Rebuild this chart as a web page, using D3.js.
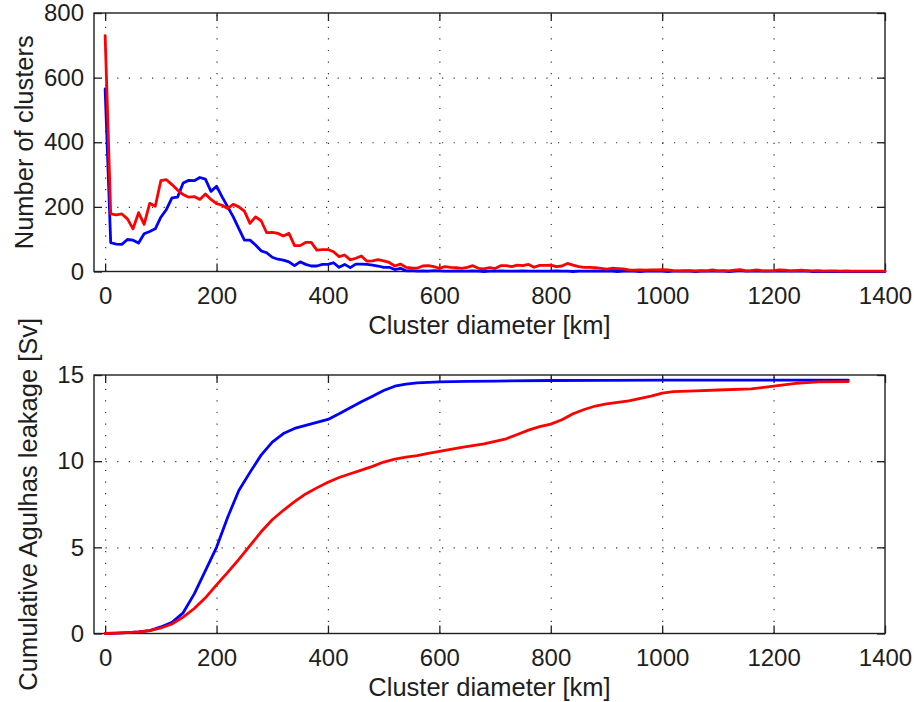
<!DOCTYPE html>
<html>
<head>
<meta charset="utf-8">
<script src="https://cdn.jsdelivr.net/npm/d3@7"></script>
<style>
  html, body { margin: 0; padding: 0; background: #fff; }
  svg { display: block; }
  text { font-family: "Liberation Sans", Arial, Helvetica, sans-serif; fill: #1e1e1e; }
</style>
</head>
<body>
<svg id="fig" width="918" height="702"></svg>
<script>
// Histogram bins: 10 km wide, starting at 0 km
const binStartKm = 0;
const binWidthKm = 10;

// Number of clusters per diameter bin (0 ... 1400 km)
const countsBlue = [
  565, 89, 85, 84, 99, 97, 88, 117, 124, 132,
  168, 192, 228, 230, 274, 282, 281, 291, 286, 248,
  264, 231, 200, 169, 133, 97, 97, 82, 64, 58,
  44, 38, 35, 30, 18, 30, 22, 17, 17, 22,
  22, 27, 13, 22, 12, 23, 23, 22, 20, 17,
  13, 13, 6, 10, 2, 3, 1, 2, 1, 3,
  2, 1, 1, 2, 1, 1, 2, 1, 0, 1,
  1, 2, 1, 1, 1, 2, 1, 1, 1, 1,
  1, 2, 1, 1, 0, 1, 1, 1, 2, 1,
  1, 1, 0, 1, 1, 1, 0, 1, 1, 1,
  1, 0, 1, 1, 2, 1, 0, 1, 1, 2,
  1, 1, 0, 1, 3, 1, 1, 2, 1, 1,
  1, 2, 1, 1, 2, 1, 2, 0, 0, 0,
  0, 0, 0, 0, 0, 0, 0, 0, 0, 0,
  0
];
const countsRed = [
  730, 178, 175, 178, 163, 132, 182, 146, 211, 202,
  281, 284, 269, 252, 238, 230, 232, 223, 240, 223,
  210, 205, 195, 208, 200, 187, 149, 169, 157, 120,
  121, 118, 110, 118, 80, 80, 90, 90, 66, 68,
  68, 61, 46, 51, 36, 41, 48, 32, 33, 37,
  33, 28, 17, 23, 13, 11, 10, 17, 18, 15,
  10, 15, 13, 12, 10, 13, 18, 10, 8, 12,
  9, 18, 18, 15, 20, 18, 22, 13, 19, 19,
  20, 15, 17, 25, 20, 15, 13, 13, 12, 10,
  7, 10, 9, 8, 5, 4, 5, 4, 5, 5,
  6, 5, 3, 2, 2, 3, 2, 3, 2, 5,
  2, 3, 2, 4, 6, 2, 3, 5, 2, 2,
  3, 5, 4, 2, 3, 4, 2, 2, 3, 1,
  2, 2, 1, 2, 1, 1, 1, 1, 1, 1,
  1
];

// Cumulative leakage [Sv] against cluster diameter [km]
const cumBlueKm = [0, 20, 40, 60, 80, 100, 120, 140, 160, 180, 200, 220, 240, 260, 280, 300,
  320, 340, 360, 380, 400, 420, 440, 460, 480, 500, 520, 540, 560, 600, 650, 700, 800, 900,
  1000, 1100, 1200, 1334];
const cumBlueSv = [0, 0.02, 0.05, 0.09, 0.17, 0.38, 0.65, 1.2, 2.3, 3.65, 5.0, 6.75, 8.3, 9.35,
  10.35, 11.1, 11.6, 11.9, 12.08, 12.25, 12.42, 12.75, 13.1, 13.45, 13.77, 14.1, 14.35, 14.47,
  14.54, 14.6, 14.63, 14.65, 14.68, 14.69, 14.7, 14.7, 14.7, 14.7];
const cumRedKm = [0, 20, 40, 60, 80, 100, 120, 140, 160, 180, 200, 220, 240, 260, 280, 300,
  320, 340, 360, 380, 400, 420, 440, 460, 480, 500, 520, 540, 560, 580, 600, 640, 680, 700,
  720, 740, 760, 780, 800, 820, 840, 860, 880, 900, 940, 980, 1000, 1020, 1060, 1100, 1160,
  1200, 1240, 1280, 1334];
const cumRedSv = [0, 0.02, 0.05, 0.09, 0.17, 0.32, 0.55, 0.95, 1.45, 2.07, 2.82, 3.55, 4.3, 5.1,
  5.9, 6.6, 7.15, 7.65, 8.1, 8.45, 8.78, 9.05, 9.27, 9.48, 9.7, 9.95, 10.12, 10.24, 10.32,
  10.45, 10.57, 10.8, 11.0, 11.15, 11.3, 11.55, 11.8, 12.0, 12.15, 12.4, 12.75, 13.0, 13.2,
  13.32, 13.5, 13.78, 13.95, 14.03, 14.08, 14.13, 14.2, 14.35, 14.52, 14.6, 14.62];

// Tick values and labels
const xTicks = [0, 200, 400, 600, 800, 1000, 1200, 1400];
const yTicksTop = [0, 200, 400, 600, 800];
const yTicksBottom = [0, 5, 10, 15];
const xLabel = "Cluster diameter [km]";
const yLabelTop = "Number of clusters";
const yLabelBottom = "Cumulative Agulhas leakage [Sv]";

const BLUE = "#0000ff", RED = "#ff0000", INK = "#1e1e1e";
const svg = d3.select("#fig");
svg.append("rect").attr("width", 918).attr("height", 702).attr("fill", "#fff");

const left = 94, right = 885;
const x = d3.scaleLinear().domain([-20, 1400]).range([left, right]);

function panel(top, bottom, yDomain, yTicks, yLabel, yLabelX, series) {
  const y = d3.scaleLinear().domain(yDomain).range([bottom, top]);
  const h = bottom - top, w = right - left;
  const g = svg.append("g");

  // dotted grid
  const grid = g.append("g").attr("class", "grid");
  grid.append("g").attr("transform", `translate(0,${bottom})`)
    .call(d3.axisBottom(x).tickValues(xTicks.filter(v => v < 1400)).tickSize(-h).tickFormat(""));
  grid.append("g").attr("transform", `translate(${left},0)`)
    .call(d3.axisLeft(y).tickValues(yTicks.slice(1, -1)).tickSize(-w).tickFormat(""));
  grid.selectAll(".domain").remove();
  grid.selectAll("line").attr("stroke", "#333").attr("stroke-width", 1.2)
    .attr("stroke-dasharray", "1.2 10.4");

  // axes with inward ticks
  const fmt = d3.format("d");
  const axB = g.append("g").attr("transform", `translate(0,${bottom})`)
    .call(d3.axisBottom(x).tickValues(xTicks).tickSize(-8).tickSizeOuter(0).tickPadding(15).tickFormat(fmt));
  const axT = g.append("g").attr("transform", `translate(0,${top})`)
    .call(d3.axisTop(x).tickValues(xTicks).tickSize(-8).tickSizeOuter(0).tickFormat(""));
  const axL = g.append("g").attr("transform", `translate(${left},0)`)
    .call(d3.axisLeft(y).tickValues(yTicks).tickSize(-8).tickSizeOuter(0).tickPadding(10).tickFormat(fmt));
  const axR = g.append("g").attr("transform", `translate(${right},0)`)
    .call(d3.axisRight(y).tickValues(yTicks).tickSize(-8).tickSizeOuter(0).tickFormat(""));
  [axB, axT, axL, axR].forEach(a => {
    a.selectAll(".domain").remove();
    a.selectAll("line").attr("stroke", INK).attr("stroke-width", 1.3);
    a.selectAll("text").attr("font-size", 24).attr("fill", INK)
      .style("font-family", '"Liberation Sans", Arial, Helvetica, sans-serif');
  });
  g.append("rect").attr("x", left).attr("y", top).attr("width", w).attr("height", h)
    .attr("fill", "none").attr("stroke", INK).attr("stroke-width", 1.4);

  // axis titles
  g.append("text").attr("x", (left + right) / 2).attr("y", bottom + 62.5)
    .attr("text-anchor", "middle").attr("font-size", 25.5).text(xLabel);
  g.append("text").attr("transform", `translate(${yLabelX},${(top + bottom) / 2}) rotate(-90)`)
    .attr("text-anchor", "middle").attr("font-size", 25.5).text(yLabel);

  // data lines
  series.forEach(s => {
    g.append("path").datum(s.points)
      .attr("fill", "none").attr("stroke", s.color).attr("stroke-width", 2.8)
      .attr("stroke-linejoin", "round").attr("stroke-linecap", "round")
      .attr("d", d3.line().x(d => x(d[0])).y(d => y(d[1])));
  });
}

const binned = arr => arr.map((v, i) => [binStartKm + i * binWidthKm, v]);
const paired = (xs, ys) => xs.map((v, i) => [v, ys[i]]);

panel(13, 271.5, [0, 800], yTicksTop, yLabelTop, 33, [
  { color: BLUE, points: binned(countsBlue) },
  { color: RED, points: binned(countsRed) }
]);
panel(375, 633.5, [0, 15], yTicksBottom, yLabelBottom, 37, [
  { color: BLUE, points: paired(cumBlueKm, cumBlueSv) },
  { color: RED, points: paired(cumRedKm, cumRedSv) }
]);
</script>
</body>
</html>
